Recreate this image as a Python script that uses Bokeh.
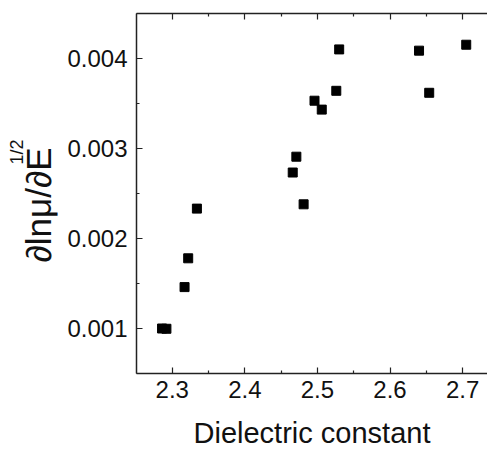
from bokeh.plotting import figure
from bokeh.models import (LinearAxis, Title, Range1d, ColumnDataSource, FixedTicker,
                          CustomLabelingPolicy)
from bokeh.embed import file_html
from bokeh.resources import INLINE

# data
dielectric = [2.286, 2.292, 2.317, 2.322, 2.334, 2.466, 2.471, 2.481,
              2.496, 2.506, 2.526, 2.530, 2.640, 2.654, 2.705]
slope = [0.001000, 0.000997, 0.001460, 0.001780, 0.002332, 0.002733, 0.002909, 0.002380,
         0.003531, 0.003432, 0.003641, 0.004101, 0.004087, 0.003619, 0.004153]

x_ticks = [2.3, 2.4, 2.5, 2.6, 2.7]
x_minor = [2.25, 2.35, 2.45, 2.55, 2.65]
y_ticks = [0.001, 0.002, 0.003, 0.004]
y_minor = [0.0005, 0.0015, 0.0025, 0.0035, 0.0045]

FONT = "Liberation Sans"

p = figure(width=487, height=451, output_backend="svg", toolbar_location=None,
           x_range=Range1d(2.2508, 2.7343), y_range=Range1d(0.0005, 0.0045),
           x_axis_type=None, y_axis_type=None,
           min_border_left=136, min_border_top=13, min_border_right=0, min_border_bottom=78)
p.outline_line_color = None
p.xgrid.visible = False
p.ygrid.visible = False
p.background_fill_color = "white"

src = ColumnDataSource(dict(x=dielectric, y=slope))
p.scatter("x", "y", source=src, marker="square", size=9, fill_color="black", line_color="black")

def style(ax):
    ax.axis_line_color = "#222222"
    ax.axis_line_width = 1.5
    ax.major_tick_line_color = "#222222"
    ax.minor_tick_line_color = "#222222"
    ax.major_tick_line_width = 1.2
    ax.minor_tick_line_width = 1.2
    ax.major_tick_in = 6
    ax.major_tick_out = 0
    ax.minor_tick_in = 3
    ax.minor_tick_out = 0
    ax.major_label_text_font = FONT
    ax.major_label_text_font_size = "24px"
    ax.major_label_text_color = "#111111"
    ax.axis_label_text_font = FONT
    ax.axis_label_text_font_style = "normal"
    ax.axis_label_text_color = "#111111"

xb = LinearAxis(ticker=FixedTicker(ticks=x_ticks, minor_ticks=x_minor))
style(xb)
xb.major_label_standoff = 7
xb.axis_label = "Dielectric constant"
xb.axis_label_text_font_size = "29px"
xb.axis_label_standoff = 16
p.add_layout(xb, "below")

xt = LinearAxis(ticker=FixedTicker(ticks=x_ticks, minor_ticks=x_minor))
style(xt)
xt.major_label_standoff = 0
xt.major_label_text_font_size = "0px"
xt.major_label_policy = CustomLabelingPolicy(code="return new Set()")
p.add_layout(xt, "above")

yl = LinearAxis(ticker=FixedTicker(ticks=y_ticks, minor_ticks=y_minor))
style(yl)
yl.major_label_standoff = 9
yl.formatter.use_scientific = False
p.add_layout(yl, "left")

# y-axis label with superscript, as two side titles
p.add_layout(Title(text="∂lnμ/∂E", align="left", offset=111, standoff=13,
                   text_font=FONT, text_font_size="35px", text_font_style="normal",
                   text_color="#111111"), "left")
p.add_layout(Title(text="1/2", align="left", offset=209, standoff=-33,
                   text_font=FONT, text_font_size="18px", text_font_style="normal",
                   text_color="#111111"), "left")

open("out.html", "w").write(file_html(p, INLINE))
